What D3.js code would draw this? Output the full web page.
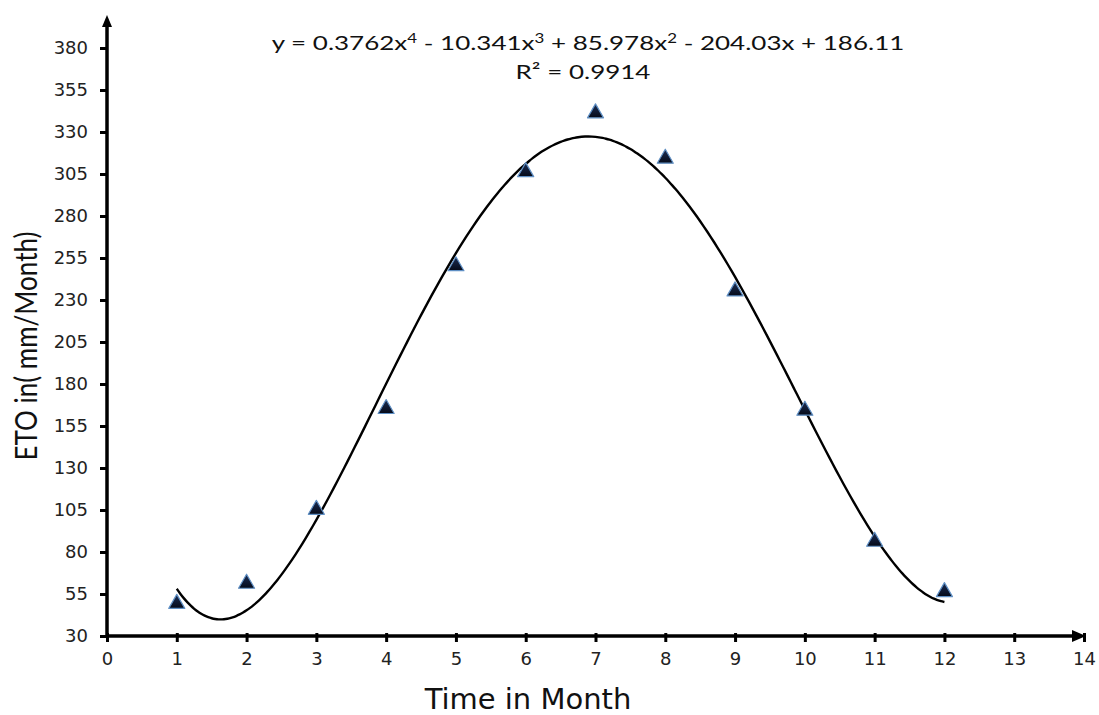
<!DOCTYPE html>
<html>
<head>
<meta charset="utf-8">
<script src="https://cdnjs.cloudflare.com/ajax/libs/d3/7.8.5/d3.min.js"></script>
<style>
  body { margin: 0; background: #fff; }
  svg { display: block; }
</style>
</head>
<body>
<svg id="chart" width="1099" height="715"></svg>
<script>
// observed ETO values per month
const months = [1, 2, 3, 4, 5, 6, 7, 8, 9, 10, 11, 12];
const eto = [50, 62, 106, 166, 251, 307, 342, 315, 236, 165, 87, 57];
// trend line coefficients, as printed on the chart (x^4 .. x^0)
const trendCoef = [0.3762, -10.341, 85.978, -204.03, 186.11];
const xTicks = [0, 1, 2, 3, 4, 5, 6, 7, 8, 9, 10, 11, 12, 13, 14];
const yTicks = [30, 55, 80, 105, 130, 155, 180, 205, 230, 255, 280, 305, 330, 355, 380];

const svg = d3.select("#chart");

const x = d3.scaleLinear().domain([0, 14]).range([107, 1084]);
const y = d3.scaleLinear().domain([30, 380]).range([636, 48]);

// trend line sampled along x
function trend(v) {
    return trendCoef.reduce((acc, c) => acc * v + c, 0);
}
const trendPts = d3.range(1, 12.001, 0.05).map(v => [v, trend(v)]);

svg.append("path")
    .datum(trendPts)
    .attr("fill", "none")
    .attr("stroke", "#000")
    .attr("stroke-width", 2.4)
    .attr("d", d3.line().x(d => x(d[0])).y(d => y(d[1])).curve(d3.curveBasis));

// markers
const defs = svg.append("defs");
const grad = defs.append("linearGradient")
    .attr("id", "triGrad")
    .attr("x1", 0).attr("y1", 0).attr("x2", 0).attr("y2", 1);
grad.append("stop").attr("offset", "0%").attr("stop-color", "#1c2e55");
grad.append("stop").attr("offset", "100%").attr("stop-color", "#050a18");

svg.selectAll(".pt")
    .data(months.map((m, i) => ({ m, v: eto[i] })))
    .enter()
    .append("path")
    .attr("class", "pt")
    .attr("d", "M0,-8 L8,6 L-8,6 Z")
    .attr("transform", d => `translate(${x(d.m)},${y(d.v)})`)
    .attr("fill", "url(#triGrad)")
    .attr("stroke", "#5f8fc4")
    .attr("stroke-width", 1.2)
    .attr("stroke-linejoin", "round");

// axes
const tickFont = "'DejaVu Sans', Verdana, sans-serif";
const xAxis = svg.append("g")
    .attr("transform", `translate(0,${y(30)})`)
    .call(d3.axisBottom(x).tickValues(xTicks).tickSize(6).tickSizeOuter(0).tickPadding(10));
xAxis.select(".domain").remove();
xAxis.selectAll(".tick line").attr("stroke-width", 3).attr("y1", -3).attr("y2", 6);
xAxis.selectAll(".tick text")
    .style("font-family", tickFont)
    .style("font-size", "18px")
    .attr("fill", "#222");

const yAxis = svg.append("g")
    .attr("transform", `translate(${x(0)},0)`)
    .call(d3.axisLeft(y).tickValues(yTicks).tickSize(7).tickSizeOuter(0).tickPadding(12));
yAxis.select(".domain").remove();
yAxis.selectAll(".tick line").attr("stroke-width", 3);
yAxis.selectAll(".tick text")
    .style("font-family", tickFont)
    .style("font-size", "18px")
    .attr("fill", "#222");

// axis lines with arrows
svg.append("line")
    .attr("x1", x(0)).attr("y1", y(30)).attr("x2", 1078).attr("y2", y(30))
    .attr("stroke", "#000").attr("stroke-width", 3.5);
svg.append("path")
    .attr("d", `M1086,${y(30)} L1072,${y(30) - 6} L1072,${y(30) + 6} Z`)
    .attr("fill", "#000");
svg.append("line")
    .attr("x1", x(0)).attr("y1", y(30) + 2).attr("x2", x(0)).attr("y2", 24)
    .attr("stroke", "#000").attr("stroke-width", 3.5);
svg.append("path")
    .attr("d", `M${x(0)},15 L${x(0) - 5},27 L${x(0) + 5},27 Z`)
    .attr("fill", "#000");

// titles
svg.append("text")
    .attr("x", 528).attr("y", 709)
    .attr("text-anchor", "middle")
    .style("font-family", tickFont)
    .style("font-size", "29px")
    .attr("fill", "#111")
    .text("Time in Month");

svg.append("text")
    .attr("transform", "translate(37,346) scale(1.2,1) rotate(-90)")
    .attr("text-anchor", "middle")
    .style("font-family", "Lato, 'Open Sans', sans-serif")
    .style("font-size", "26px")
    .attr("fill", "#111")
    .text("ETO in( mm/Month)");

// equation
const eqFont = "Lato, 'Open Sans', sans-serif";
const eq = svg.append("text")
    .attr("transform", "translate(588,50) scale(1.3,1)")
    .attr("text-anchor", "middle")
    .style("font-family", eqFont)
    .style("font-size", "20px")
    .attr("fill", "#111");
eq.append("tspan").text("y = 0.3762x");
eq.append("tspan").attr("dy", -7).style("font-size", "13px").text("4");
eq.append("tspan").attr("dy", 7).text(" - 10.341x");
eq.append("tspan").attr("dy", -7).style("font-size", "13px").text("3");
eq.append("tspan").attr("dy", 7).text(" + 85.978x");
eq.append("tspan").attr("dy", -7).style("font-size", "13px").text("2");
eq.append("tspan").attr("dy", 7).text(" - 204.03x + 186.11");

svg.append("text")
    .attr("transform", "translate(583,79) scale(1.3,1)")
    .attr("text-anchor", "middle")
    .style("font-family", eqFont)
    .style("font-size", "20px")
    .attr("fill", "#111")
    .text("R² = 0.9914");
</script>
</body>
</html>
